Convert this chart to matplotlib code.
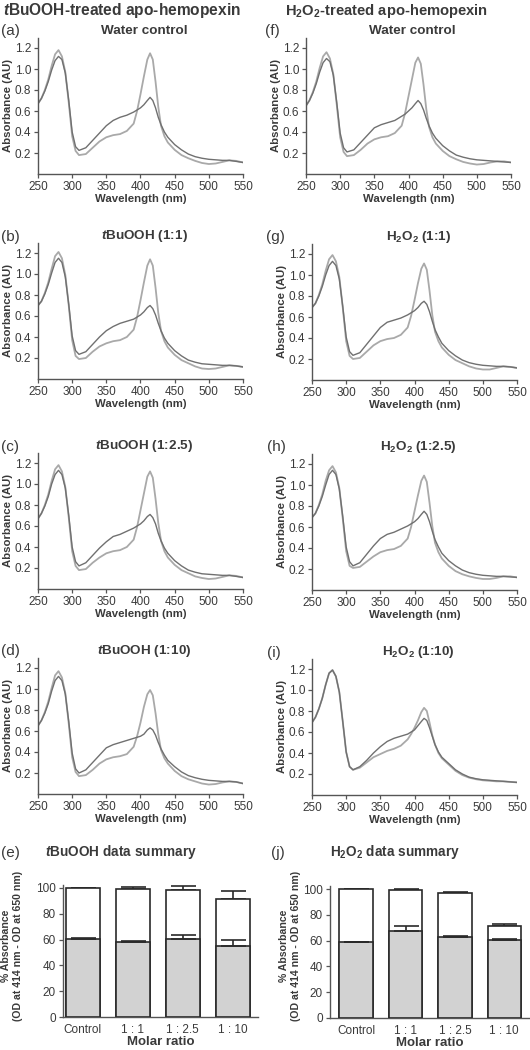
import numpy as np
import matplotlib
matplotlib.use('Agg')
import matplotlib.pyplot as plt

plt.rcParams['font.family'] = ['Liberation Sans', 'DejaVu Sans']
plt.rcParams['mathtext.fontset'] = 'custom'
plt.rcParams['mathtext.rm'] = 'Liberation Sans'
plt.rcParams['mathtext.bf'] = 'Liberation Sans:bold'
plt.rcParams['mathtext.it'] = 'Liberation Sans:bold:italic'

W, H = 530, 1050

# wavelength grid (nm)
wl = [250, 255, 260, 265, 270, 275, 280, 285, 290, 295, 300, 305, 310, 320, 330, 340, 350,
      360, 370, 380, 390, 395, 400, 405, 410, 414, 418, 422, 426, 430, 435, 440, 450, 460,
      470, 480, 490, 500, 510, 520, 530, 540, 550]

# tBuOOH column, light = sharp Soret curve, dark = broad curve
a_light = [0.67, 0.72, 0.80, 0.90, 1.03, 1.14, 1.18, 1.12, 0.97, 0.68, 0.36, 0.22, 0.18, 0.19, 0.25, 0.31, 0.35,
           0.37, 0.38, 0.41, 0.48, 0.60, 0.76, 0.93, 1.09, 1.15, 1.09, 0.88, 0.64, 0.46, 0.36, 0.30, 0.23, 0.18,
           0.15, 0.125, 0.105, 0.095, 0.10, 0.115, 0.13, 0.125, 0.11]
a_dark = [0.67, 0.72, 0.79, 0.88, 0.99, 1.08, 1.12, 1.09, 0.96, 0.70, 0.40, 0.26, 0.225, 0.25, 0.32, 0.39, 0.46,
          0.51, 0.54, 0.56, 0.59, 0.61, 0.63, 0.66, 0.70, 0.73, 0.70, 0.63, 0.54, 0.47, 0.40, 0.35, 0.28, 0.23,
          0.19, 0.165, 0.15, 0.14, 0.135, 0.13, 0.13, 0.12, 0.11]
b_light = [0.70, 0.74, 0.82, 0.92, 1.05, 1.17, 1.21, 1.15, 0.99, 0.70, 0.37, 0.22, 0.19, 0.20, 0.26, 0.31, 0.34,
           0.36, 0.37, 0.40, 0.47, 0.59, 0.75, 0.92, 1.08, 1.14, 1.08, 0.87, 0.63, 0.46, 0.36, 0.30, 0.23, 0.18,
           0.15, 0.12, 0.10, 0.095, 0.10, 0.115, 0.13, 0.125, 0.115]
b_dark = [0.70, 0.74, 0.81, 0.90, 1.01, 1.11, 1.15, 1.11, 0.97, 0.71, 0.41, 0.27, 0.235, 0.26, 0.33, 0.40, 0.46,
          0.50, 0.53, 0.55, 0.57, 0.59, 0.61, 0.64, 0.68, 0.70, 0.67, 0.61, 0.53, 0.46, 0.39, 0.34, 0.27, 0.22,
          0.18, 0.16, 0.145, 0.14, 0.135, 0.13, 0.13, 0.125, 0.115]
c_light = [0.67, 0.72, 0.80, 0.90, 1.03, 1.14, 1.18, 1.12, 0.97, 0.68, 0.36, 0.22, 0.18, 0.19, 0.25, 0.30, 0.34,
           0.36, 0.37, 0.40, 0.47, 0.59, 0.75, 0.91, 1.07, 1.12, 1.06, 0.86, 0.63, 0.46, 0.36, 0.30, 0.23, 0.18,
           0.15, 0.12, 0.105, 0.095, 0.10, 0.115, 0.13, 0.125, 0.11]
c_dark = [0.67, 0.72, 0.79, 0.88, 1.00, 1.09, 1.13, 1.09, 0.96, 0.70, 0.40, 0.26, 0.22, 0.25, 0.32, 0.39, 0.45,
          0.50, 0.52, 0.55, 0.58, 0.60, 0.62, 0.65, 0.69, 0.71, 0.68, 0.62, 0.53, 0.46, 0.39, 0.34, 0.27, 0.22,
          0.18, 0.16, 0.145, 0.14, 0.135, 0.13, 0.13, 0.12, 0.11]
d_light = [0.65, 0.70, 0.78, 0.88, 1.01, 1.13, 1.17, 1.11, 0.96, 0.67, 0.35, 0.21, 0.17, 0.18, 0.23, 0.29, 0.33,
           0.35, 0.36, 0.38, 0.45, 0.55, 0.68, 0.83, 0.95, 0.99, 0.94, 0.77, 0.57, 0.42, 0.34, 0.29, 0.22, 0.17,
           0.14, 0.12, 0.10, 0.09, 0.095, 0.11, 0.12, 0.115, 0.10]
d_dark = [0.65, 0.70, 0.77, 0.86, 0.98, 1.08, 1.12, 1.08, 0.95, 0.69, 0.39, 0.24, 0.20, 0.23, 0.30, 0.37, 0.44,
          0.47, 0.49, 0.51, 0.53, 0.54, 0.55, 0.57, 0.61, 0.63, 0.61, 0.56, 0.49, 0.43, 0.37, 0.32, 0.26, 0.21,
          0.175, 0.155, 0.14, 0.13, 0.125, 0.12, 0.12, 0.115, 0.10]

# H2O2 column
f_light = [0.65, 0.70, 0.78, 0.88, 1.01, 1.12, 1.16, 1.10, 0.95, 0.66, 0.35, 0.21, 0.17, 0.18, 0.23, 0.29, 0.33,
           0.35, 0.36, 0.39, 0.46, 0.58, 0.74, 0.90, 1.06, 1.11, 1.05, 0.85, 0.62, 0.45, 0.35, 0.29, 0.22, 0.17,
           0.14, 0.115, 0.10, 0.09, 0.095, 0.11, 0.12, 0.12, 0.11]
f_dark = [0.65, 0.70, 0.77, 0.86, 0.97, 1.06, 1.10, 1.07, 0.94, 0.68, 0.39, 0.25, 0.21, 0.23, 0.30, 0.37, 0.44,
          0.47, 0.49, 0.51, 0.55, 0.57, 0.60, 0.63, 0.67, 0.70, 0.67, 0.61, 0.53, 0.46, 0.39, 0.34, 0.27, 0.22,
          0.18, 0.16, 0.145, 0.135, 0.13, 0.125, 0.12, 0.115, 0.11]
g_light = [0.69, 0.73, 0.81, 0.91, 1.04, 1.15, 1.19, 1.13, 0.98, 0.69, 0.37, 0.23, 0.20, 0.21, 0.27, 0.33, 0.37,
           0.39, 0.40, 0.43, 0.50, 0.61, 0.76, 0.92, 1.06, 1.11, 1.05, 0.85, 0.62, 0.46, 0.37, 0.31, 0.24, 0.19,
           0.16, 0.13, 0.11, 0.10, 0.10, 0.115, 0.13, 0.125, 0.115]
g_dark = [0.69, 0.73, 0.80, 0.89, 1.00, 1.09, 1.13, 1.09, 0.96, 0.70, 0.41, 0.27, 0.235, 0.26, 0.34, 0.42, 0.50,
          0.55, 0.57, 0.59, 0.62, 0.64, 0.66, 0.69, 0.73, 0.75, 0.72, 0.65, 0.56, 0.48, 0.41, 0.35, 0.28, 0.23,
          0.19, 0.165, 0.15, 0.14, 0.135, 0.13, 0.13, 0.125, 0.115]
h_light = [0.69, 0.73, 0.81, 0.91, 1.04, 1.14, 1.18, 1.12, 0.97, 0.68, 0.37, 0.23, 0.21, 0.22, 0.27, 0.32, 0.36,
           0.38, 0.39, 0.42, 0.49, 0.60, 0.75, 0.90, 1.04, 1.09, 1.03, 0.83, 0.61, 0.45, 0.36, 0.30, 0.23, 0.18,
           0.15, 0.13, 0.115, 0.105, 0.105, 0.115, 0.13, 0.13, 0.12]
h_dark = [0.69, 0.73, 0.80, 0.89, 1.00, 1.10, 1.14, 1.10, 0.96, 0.70, 0.41, 0.27, 0.23, 0.26, 0.34, 0.42, 0.49,
          0.53, 0.55, 0.58, 0.61, 0.63, 0.65, 0.68, 0.72, 0.75, 0.72, 0.65, 0.56, 0.48, 0.41, 0.35, 0.28, 0.23,
          0.19, 0.165, 0.15, 0.14, 0.135, 0.13, 0.13, 0.125, 0.12]
i_light = [0.69, 0.74, 0.82, 0.92, 1.05, 1.16, 1.19, 1.13, 0.98, 0.70, 0.41, 0.27, 0.24, 0.26, 0.31, 0.36, 0.39,
           0.42, 0.44, 0.47, 0.53, 0.58, 0.64, 0.71, 0.79, 0.83, 0.80, 0.69, 0.57, 0.48, 0.40, 0.35, 0.29, 0.23,
           0.19, 0.165, 0.15, 0.14, 0.135, 0.13, 0.13, 0.125, 0.12]
i_dark = [0.69, 0.74, 0.82, 0.92, 1.05, 1.16, 1.19, 1.13, 0.98, 0.70, 0.41, 0.27, 0.24, 0.27, 0.33, 0.40, 0.46,
          0.51, 0.54, 0.56, 0.58, 0.60, 0.62, 0.66, 0.70, 0.73, 0.71, 0.64, 0.56, 0.48, 0.41, 0.36, 0.30, 0.24,
          0.20, 0.17, 0.155, 0.145, 0.14, 0.135, 0.13, 0.125, 0.12]

# summary bars (% absorbance), white = total, grey = lower portion; errors drawn upward only
ratios = ['Control', '1 : 1', '1 : 2.5', '1 : 10']
e_total = [100.0, 99.6, 98.8, 91.5]
e_total_err = [0.3, 0.9, 2.4, 6.2]
e_part = [60.5, 57.8, 60.7, 55.4]
e_part_err = [0.6, 0.8, 2.5, 4.0]
j_total = [100.0, 99.5, 96.9, 71.6]
j_total_err = [0.2, 0.4, 0.4, 0.9]
j_part = [58.7, 67.2, 62.5, 60.7]
j_part_err = [0.6, 3.9, 1.4, 0.5]

ink = '#3a3a3a'
dark_line = '#707070'
light_line = '#a9a9a9'

fig = plt.figure(figsize=(W / 100, H / 100), dpi=100)


def rect(x0, x1, ytop, ybot):
    return [x0 / W, 1 - ybot / H, (x1 - x0) / W, (ybot - ytop) / H]


def ftext(x, y, s, **kw):
    kw.setdefault('color', ink)
    return fig.text(x / W, 1 - y / H, s, **kw)


def style_axes(ax, size=8.5):
    for side in ['top', 'right']:
        ax.spines[side].set_visible(False)
    for side in ['left', 'bottom']:
        ax.spines[side].set_color('#555555')
        ax.spines[side].set_linewidth(1.0)
    ax.tick_params(direction='out', length=3, width=0.9, color='#555555',
                   labelsize=size, labelcolor=ink, pad=2)


spectra = [
    # (light, dark, x0, x1, top, bottom, label, label x, title)
    (a_light, a_dark, 38, 243, 37.5, 174, '(a)', 1, 'Water control'),
    (b_light, b_dark, 38, 243, 242.5, 379, '(b)', 1, r'$\mathit{t}$BuOOH (1:1)'),
    (c_light, c_dark, 38, 243, 452.5, 589, '(c)', 1, r'$\mathit{t}$BuOOH (1:2.5)'),
    (d_light, d_dark, 38, 243, 657.5, 794, '(d)', 1, r'$\mathit{t}$BuOOH (1:10)'),
    (f_light, f_dark, 306, 511, 37.5, 174, '(f)', 265, 'Water control'),
    (g_light, g_dark, 312, 517, 243.5, 380, '(g)', 266, r'$\mathbf{H_2O_2}$ (1:1)'),
    (h_light, h_dark, 312, 517, 453.5, 590, '(h)', 267, r'$\mathbf{H_2O_2}$ (1:2.5)'),
    (i_light, i_dark, 312, 517, 658.5, 795, '(i)', 267, r'$\mathbf{H_2O_2}$ (1:10)'),
]

for light, dark, x0, x1, top, bot, lab, labx, title in spectra:
    ax = fig.add_axes(rect(x0, x1, top, bot))
    ax.plot(wl, light, color=light_line, lw=1.3)
    ax.plot(wl, dark, color=dark_line, lw=1.0)
    ax.set_xlim(250, 550)
    ax.set_ylim(0, 1.3)
    ax.set_xticks(np.arange(250, 551, 50))
    ax.set_yticks([0.2, 0.4, 0.6, 0.8, 1.0, 1.2])
    ax.set_yticklabels(['0.2', '0.4', '0.6', '0.8', '1.0', '1.2'])
    style_axes(ax)
    ax.set_xlabel('Wavelength (nm)', fontsize=8.2, fontweight='bold', color=ink, labelpad=1)
    ax.set_ylabel('Absorbance (AU)', fontsize=8.2, fontweight='bold', color=ink, labelpad=1)
    ftext(labx, top - 6, lab, fontsize=11, va='center', ha='left')
    ftext((x0 + x1) / 2 + 4, top - 6.5, title, fontsize=9.7, fontweight='bold', va='center', ha='center')

bars = [
    (e_total, e_total_err, e_part, e_part_err, 63, 258, 1017, -0.39, '(e)', 1, 121,
     r'$\mathit{t}$BuOOH data summary', 12),
    (j_total, j_total_err, j_part, j_part_err, 330, 529, 1018, -0.53, '(j)', 271, 395,
     r'$\mathbf{H_2O_2}$ data summary', 290),
]

for tot, tot_err, part, part_err, x0, x1, bot, xl, lab, labx, titx, title, ylx in bars:
    top = bot - 102 * 1.29
    ax = fig.add_axes(rect(x0, x1, top, bot))
    x = np.arange(len(ratios))
    ax.bar(x, tot, width=0.68, color='white', edgecolor='#2a2a2a', linewidth=1.2, zorder=2)
    ax.errorbar(x, tot, yerr=[np.zeros(len(x)), tot_err], fmt='none', ecolor='#2a2a2a',
                elinewidth=1.2, capsize=9, capthick=1.2, zorder=1)
    ax.bar(x, part, width=0.68, color='#d2d2d2', edgecolor='#2a2a2a', linewidth=1.2, zorder=3)
    ax.errorbar(x, part, yerr=[np.zeros(len(x)), part_err], fmt='none', ecolor='#2a2a2a',
                elinewidth=1.2, capsize=9, capthick=1.2, zorder=4)
    ax.set_xlim(xl, 3.5)
    ax.set_ylim(0, 102)
    ax.set_yticks([0, 20, 40, 60, 80, 100])
    ax.set_xticks(x)
    ax.set_xticklabels(ratios)
    style_axes(ax, size=8.5)
    ax.tick_params(axis='x', length=0, pad=5)
    ax.set_xlabel('Molar ratio', fontsize=9.5, fontweight='bold', color=ink, labelpad=0)
    ftext(ylx, 946, '% Absorbance\n(OD at 414 nm - OD at 650 nm)', fontsize=7.6, fontweight='bold',
          rotation=90, ha='center', va='center', multialignment='center', linespacing=1.2)
    ftext(labx, 853, lab, fontsize=11, va='center', ha='left')
    ftext(titx, 852, title, fontsize=9.8, fontweight='bold', va='center', ha='center')

ftext(3, 11, r'$\mathit{t}$BuOOH-treated apo-hemopexin', fontsize=11.2, fontweight='bold',
      va='center', ha='left')
ftext(285, 11, r'$\mathbf{H_2O_2}$-treated apo-hemopexin', fontsize=10.6, fontweight='bold',
      va='center', ha='left')

fig.savefig('out.png', dpi=100)
